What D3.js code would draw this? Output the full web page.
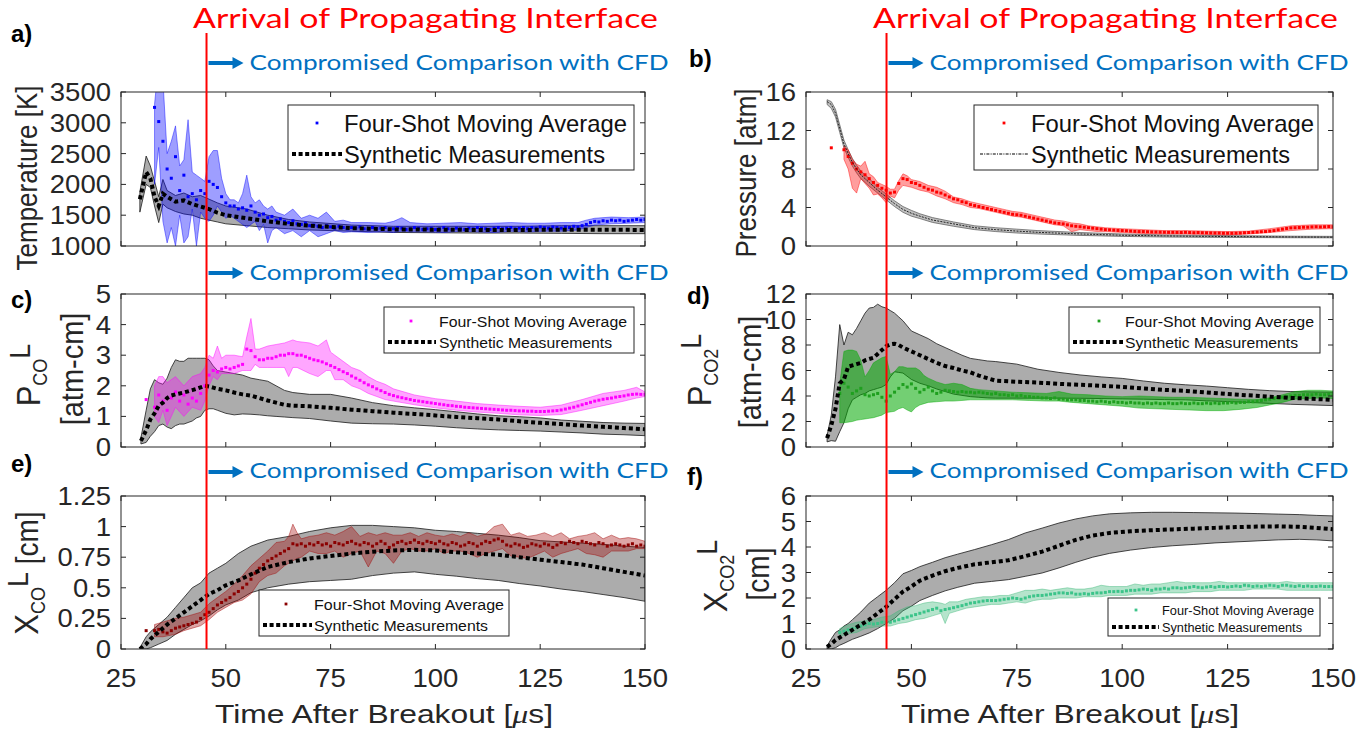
<!DOCTYPE html>
<html><head><meta charset="utf-8">
<script src="https://cdn.jsdelivr.net/npm/d3@7"></script>
<style>body{margin:0;background:#fff}svg{display:block}</style>
</head><body>
<script>
// ---------------- DATA ----------------
const xTicks = [25, 50, 75, 100, 125, 150];
const tempTicks = [1000, 1500, 2000, 2500, 3000, 3500];
const presTicks = [0, 4, 8, 12, 16];
const pcoTicks = [0, 1, 2, 3, 4, 5];
const pco2Ticks = [0, 2, 4, 6, 8, 10, 12];
const xcoTicks = [0, 0.25, 0.5, 0.75, 1, 1.25];
const xco2Ticks = [0, 1, 2, 3, 4, 5, 6];
const arrivalLeft = 45.4, arrivalRight = 44.1;

// (a) Temperature — dots every 1 us from tempDotStart
const tempDotStart = 33;
const tempDots = [3250,3020,2700,2250,2100,2450,1900,2150,1800,1850,
 1750,1900,1850,2050,2000,1950,1800,1700,1650,1650,
 1600,1620,1580,1650,1550,1500,1520,1460,1480,1420,
 1440,1400,1380,1410,1360,1350,1370,1330,1340,1320,
 1300,1330,1310,1290,1320,1300,1280,1300,1290,1310,
 1280,1270,1300,1280,1290,1300,1270,1280,1300,1290,
 1270,1280,1300,1290,1270,1280,1290,1270,1280,1300,
 1280,1270,1290,1280,1270,1290,1280,1300,1290,1280,
 1270,1290,1300,1280,1290,1300,1280,1290,1300,1280,
 1300,1290,1310,1300,1290,1310,1300,1290,1310,1300,
 1320,1310,1330,1350,1380,1400,1390,1410,1400,1420,
 1410,1420,1400,1410,1420,1430,1420,1430];
const tempBandT = [33,34,35,36,37,38,39,40,41,42,43,44,45,46,47,48,49,50,51,52,53,54,55,56,57,58,59,60,61,62,64,66,68,70,72,74,76,78,80,84,88,90,92,94,98,102,106,110,114,118,122,126,130,134,136,138,142,146,150];
const tempBandLo = [2000,2600,1400,1050,1300,1000,1500,1050,1150,1600,1000,1550,1450,1400,1500,1650,1550,1450,1500,1450,1400,1350,1300,1350,1400,1250,1350,1050,1250,1300,1200,1250,1150,1250,1150,1200,1250,1220,1230,1220,1230,1220,1240,1230,1230,1220,1240,1230,1220,1240,1230,1240,1240,1260,1300,1340,1360,1370,1380];
const tempBandHi = [3300,4000,3700,2500,2700,2950,2300,2400,3050,2200,2150,2100,2050,2450,2550,2550,2100,1850,1750,1750,1700,1850,2150,1800,1700,1750,1650,1600,1650,1550,1500,1600,1450,1500,1450,1550,1400,1420,1380,1380,1370,1400,1460,1380,1360,1370,1380,1360,1370,1380,1370,1370,1380,1380,1420,1450,1470,1460,1470];
const tempSynT = [29.5,31,32,33,34,35,36,38,40,42,44,46,48,50,55,60,65,70,80,90,100,110,120,130,140,150];
const tempSyn = [1760,2200,2100,1800,1650,1850,1800,1720,1740,1680,1640,1600,1540,1500,1450,1400,1360,1330,1290,1270,1265,1260,1260,1265,1265,1260];
const tempSynLo = [1550,2000,1950,1650,1380,1680,1620,1560,1520,1500,1450,1420,1390,1360,1330,1300,1280,1260,1240,1220,1215,1210,1210,1205,1200,1200];
const tempSynHi = [1880,2460,2300,2050,1800,2080,1900,1820,1860,1800,1820,1760,1700,1650,1600,1500,1430,1390,1340,1320,1320,1320,1320,1330,1330,1330];

// (b) Pressure
const presDotStart = 31;
const presDots = [10.2,null,null,10.0,9.3,8.6,8.0,7.7,7.4,7.0,
 6.6,6.3,6.0,5.8,5.5,5.6,6.5,7.0,6.9,6.6,
 6.5,6.3,6.1,5.9,5.8,5.6,5.5,5.3,5.1,4.9,
 4.8,4.6,4.5,4.3,4.2,4.1,4.0,3.9,3.8,3.7,
 3.6,3.5,3.4,3.3,3.25,3.2,3.1,3.0,2.9,2.8,
 2.7,2.6,2.5,2.4,2.35,2.3,2.2,2.1,2.05,2.0,
 1.95,1.9,1.85,1.8,1.75,1.7,1.68,1.65,1.62,1.6,
 1.58,1.55,1.52,1.5,1.5,1.48,1.46,1.45,1.44,1.43,
 1.42,1.42,1.41,1.4,1.42,1.4,1.38,1.4,1.38,1.37,
 1.36,1.35,1.35,1.33,1.33,1.32,1.33,1.35,1.38,1.4,
 1.42,1.45,1.48,1.5,1.55,1.6,1.68,1.75,1.82,1.88,
 1.9,1.92,1.95,1.95,1.98,2.0,1.98,2.0,2.02,2.0];
const presBandT = [34,35,36,37,38,39,40,41,42,43,44,45,46,47,48,49,50,52,54,56,58,60,62,64,66,68,70,72,74,76,78,80,82,84,86,88,90,92,94,96,100,105,110,115,120,125,130,135,140,145,150];
const presBandLo = [9.0,8.0,6.0,5.5,7.0,6.5,6.0,5.3,5.4,5.0,4.5,5.2,5.0,5.8,6.3,6.2,6.1,5.8,5.6,5.2,4.9,4.5,4.3,4.0,3.9,3.7,3.5,3.3,3.1,3.0,2.8,2.6,2.4,2.2,2.1,1.5,1.7,1.6,1.5,1.5,1.4,1.3,1.25,1.25,1.2,1.15,1.25,1.4,1.6,1.75,1.8];
const presBandHi = [10.4,10.0,9.0,8.5,8.3,8.8,7.5,7.2,6.6,6.4,6.2,5.9,5.9,6.8,7.5,7.3,6.9,6.7,6.3,6.1,5.7,5.1,4.9,4.6,4.4,4.2,4.0,3.8,3.6,3.5,3.3,3.1,2.9,2.7,2.6,2.4,2.3,2.1,2.0,1.9,1.8,1.7,1.6,1.6,1.55,1.5,1.55,1.8,2.1,2.2,2.2];
const presSynT = [30,31,32,33,34,35,36,37,38,40,42,44,46,48,50,52,55,60,65,70,75,80,90,100,110,120,130,140,150];
const presSyn = [15.0,14.7,13.8,12.2,10.6,9.6,8.7,8.0,7.4,6.6,5.8,5.1,4.4,3.8,3.4,3.1,2.7,2.3,1.9,1.7,1.55,1.42,1.25,1.12,1.05,1.0,0.97,0.94,0.92];
const presSynLo = [14.7,14.3,13.4,11.8,10.2,9.2,8.3,7.6,7.0,6.2,5.5,4.8,4.1,3.5,3.1,2.85,2.45,2.05,1.7,1.5,1.35,1.25,1.1,1.0,0.93,0.9,0.88,0.86,0.85];
const presSynHi = [15.2,15.0,14.2,12.6,11.0,10.0,9.1,8.4,7.8,7.0,6.1,5.4,4.7,4.1,3.7,3.35,2.95,2.5,2.1,1.9,1.75,1.6,1.4,1.25,1.15,1.1,1.06,1.02,1.0];

// (c) P_CO L
const pcoDotStart = 31;
const pcoDots = [1.55,null,1.3,1.7,1.5,1.2,1.6,1.8,1.5,1.7,
 1.4,1.6,1.5,1.75,2.0,2.35,2.5,2.45,2.55,2.6,
 2.55,2.6,2.65,2.7,3.2,3.15,2.95,2.85,2.85,2.9,
 2.9,2.95,3.0,3.0,3.05,3.05,3.0,3.0,2.95,2.9,
 2.85,2.82,2.78,2.72,2.66,2.6,2.53,2.46,2.4,2.32,
 2.25,2.18,2.1,2.03,1.97,1.9,1.84,1.78,1.72,1.68,
 1.64,1.61,1.58,1.55,1.52,1.5,1.48,1.46,1.44,1.42,
 1.4,1.38,1.36,1.35,1.33,1.32,1.3,1.29,1.28,1.27,
 1.26,1.25,1.24,1.23,1.22,1.21,1.2,1.2,1.19,1.18,
 1.18,1.17,1.17,1.16,1.16,1.16,1.17,1.18,1.19,1.21,
 1.24,1.27,1.3,1.34,1.38,1.42,1.46,1.5,1.53,1.56,
 1.58,1.6,1.63,1.65,1.67,1.7,1.72,1.73,1.72,1.72];
const pcoBandT = [33,34,35,36,38,40,42,44,45,46,47,48,49,50,52,54,55,56,57,58,60,62,64,65,66,67,70,72,74,75,76,78,80,82,84,86,88,90,95,100,105,110,115,120,125,130,135,140,145,148,150];
const pcoBandLo = [1.0,0.8,1.2,0.7,1.3,1.0,1.3,1.2,1.5,2.0,2.3,2.2,2.4,2.4,2.4,2.5,2.5,2.5,2.7,2.6,2.6,2.6,2.6,2.3,2.6,2.6,2.4,2.3,2.5,2.5,2.2,2.2,2.0,1.9,1.75,1.65,1.55,1.5,1.38,1.28,1.2,1.14,1.1,1.05,1.03,1.06,1.2,1.35,1.5,1.6,1.65];
const pcoBandHi = [2.0,2.3,2.3,2.1,2.3,2.0,2.3,2.4,2.6,3.0,2.9,3.3,2.9,3.0,3.0,2.95,3.6,4.2,3.2,3.2,3.3,3.35,3.4,3.45,3.5,3.45,3.4,3.3,3.5,3.1,3.0,2.8,2.6,2.5,2.3,2.15,2.05,1.9,1.7,1.58,1.5,1.42,1.37,1.33,1.3,1.37,1.55,1.75,1.85,1.95,1.8];
const pcoSynT = [29.75,31,32,33,34,35,36,37,38,39,40,41,42,43,44,45,46,47,48,50,52,54,56,58,60,62,64,66,70,75,80,85,90,95,100,105,110,115,120,125,130,135,140,145,150];
const pcoSyn = [0.2,0.55,0.9,1.1,1.35,1.45,1.6,1.68,1.72,1.75,1.78,1.82,1.86,1.9,1.95,2.0,1.98,1.94,1.9,1.85,1.78,1.72,1.68,1.6,1.52,1.45,1.38,1.35,1.33,1.28,1.22,1.17,1.12,1.08,1.03,0.98,0.94,0.9,0.84,0.79,0.75,0.7,0.66,0.62,0.58];
const pcoSynLo = [0.1,0.15,0.35,0.5,0.7,0.75,0.65,0.6,0.7,0.75,0.75,0.8,0.85,0.95,1.0,1.2,1.25,1.25,1.2,1.1,1.05,1.08,1.07,1.05,1.02,1.0,0.98,0.96,0.93,0.85,0.78,0.76,0.75,0.72,0.68,0.63,0.59,0.56,0.54,0.52,0.49,0.46,0.42,0.4,0.37];
const pcoSynHi = [0.3,1.2,1.9,2.2,2.1,2.05,2.25,2.6,2.85,2.8,2.8,2.9,2.9,2.9,2.9,2.9,2.85,2.65,2.5,2.45,2.4,2.35,2.25,2.2,2.15,2.0,1.85,1.78,1.72,1.72,1.6,1.45,1.35,1.28,1.22,1.15,1.08,1.02,0.99,0.95,0.88,0.84,0.8,0.78,0.77];

// (d) P_CO2 L
const pco2DotStart = 33;
const pco2Dots = [4.2,5.0,4.7,4.2,4.4,4.6,4.1,4.0,4.1,4.2,
 3.9,3.6,4.0,4.3,4.6,4.9,4.7,4.95,4.6,4.3,
 4.5,4.7,4.4,4.2,4.3,4.45,4.4,4.35,4.3,4.35,
 4.3,4.3,4.25,4.3,4.25,4.2,4.15,4.2,4.1,4.1,
 4.05,4.1,4.0,4.05,3.95,3.95,3.9,3.9,3.85,3.85,
 3.8,3.85,3.75,3.75,3.7,3.7,3.7,3.65,3.65,3.6,
 3.6,3.55,3.6,3.55,3.5,3.55,3.5,3.5,3.45,3.5,
 3.45,3.45,3.4,3.45,3.4,3.45,3.4,3.4,3.45,3.4,
 3.4,3.45,3.4,3.4,3.45,3.4,3.4,3.45,3.4,3.45,
 3.4,3.45,3.45,3.5,3.45,3.5,3.5,3.55,3.55,3.6,
 3.65,3.7,3.75,3.8,3.85,3.9,3.95,4.0,4.05,4.05,
 4.1,4.1,4.1,4.15,4.1,4.1,4.15,4.1];
const pco2BandT = [33,34,35,36,37,38,39,40,41,42,43,44,45,46,47,48,49,50,51,52,53,54,56,58,60,62,64,66,70,74,78,82,85,88,92,96,100,104,108,112,116,120,124,128,132,135,138,141,144,147,150];
const pco2BandLo = [1.9,1.9,1.95,2.0,2.1,2.15,2.2,2.25,2.3,2.4,2.5,2.7,2.75,2.8,3.0,3.1,2.9,2.75,3.1,3.3,3.4,3.5,3.55,3.6,3.6,3.65,3.7,3.7,3.7,3.7,3.65,3.6,3.6,3.5,3.4,3.3,3.2,3.05,3.0,2.95,2.9,2.85,2.85,2.95,3.1,3.3,3.5,3.75,3.8,3.85,3.8];
const pco2BandHi = [5.0,7.5,7.6,7.6,7.5,6.8,5.5,6.0,6.6,6.8,7.0,7.1,5.7,5.9,6.3,6.3,6.2,6.2,6.2,6.0,5.6,5.4,5.1,4.9,5.0,4.9,4.6,4.5,4.4,4.3,4.25,4.2,4.35,4.15,4.1,4.0,3.95,4.0,3.95,3.9,3.9,3.85,3.8,3.75,3.75,3.85,4.1,4.35,4.45,4.45,4.4];
const pco2SynT = [30,31,32,33,34,35,36,37,38,39,40,41,42,43,44,45,46,47,48,50,52,54,56,58,60,62,64,66,68,70,75,80,85,90,95,100,105,110,115,120,125,130,135,140,145,150];
const pco2Syn = [0.7,1.7,3.0,5.0,5.3,6.3,6.4,6.5,6.6,6.8,6.9,7.0,7.3,7.6,7.9,8.05,8.1,8.0,7.8,7.5,7.2,6.9,6.6,6.35,6.2,6.0,5.85,5.6,5.4,5.2,5.12,5.05,4.95,4.88,4.8,4.72,4.6,4.48,4.4,4.28,4.15,4.05,3.95,3.85,3.78,3.7];
const pco2SynLo = [0.4,0.5,0.45,1.2,1.9,3.0,3.7,3.9,4.1,4.2,4.4,4.5,4.6,4.7,4.9,5.5,5.9,5.85,5.8,5.3,5.0,4.8,4.55,4.35,4.15,4.05,3.95,3.9,3.85,3.83,3.83,3.83,3.83,3.82,3.8,3.77,3.75,3.72,3.7,3.62,3.56,3.5,3.42,3.35,3.3,3.25];
const pco2SynHi = [0.9,2.5,5.5,9.6,8.0,9.0,8.8,9.3,9.9,10.5,10.9,10.95,11.2,11.0,10.9,10.7,10.5,10.2,9.9,9.1,8.8,8.5,8.1,7.8,7.5,7.2,6.95,6.85,6.75,6.7,6.5,6.1,5.85,5.65,5.5,5.38,5.18,5.0,4.88,4.78,4.65,4.52,4.42,4.35,4.32,4.3];

// (e) X_CO L
const xcoDotStart = 31;
const xcoDots = [0.15,null,0.15,0.16,0.14,0.13,0.15,0.17,0.18,0.19,
 0.2,0.21,0.22,0.25,0.28,0.3,0.33,0.36,0.38,0.4,
 0.42,0.45,0.47,0.5,0.53,0.57,0.62,0.66,0.69,0.72,
 0.74,0.76,0.78,0.8,0.82,0.86,0.85,0.86,0.84,0.86,
 0.85,0.87,0.85,0.86,0.84,0.87,0.86,0.85,0.87,0.88,
 0.86,0.85,0.87,0.86,0.84,0.86,0.88,0.86,0.83,0.85,
 0.87,0.88,0.86,0.87,0.89,0.87,0.86,0.88,0.87,0.86,
 0.88,0.86,0.85,0.87,0.86,0.84,0.85,0.87,0.86,0.84,
 0.86,0.88,0.87,0.89,0.9,0.88,0.85,0.84,0.86,0.85,
 0.83,0.84,0.86,0.85,0.84,0.86,0.85,0.83,0.85,0.87,
 0.86,0.88,0.87,0.86,0.88,0.87,0.86,0.85,0.87,0.86,
 0.84,0.85,0.86,0.85,0.84,0.85,0.86,0.84,0.85,0.84];
const xcoBandT = [33,35,38,40,42,44,46,48,50,52,54,56,58,60,62,64,65,66,67,68,70,72,74,76,78,80,82,84,86,88,90,92,94,96,98,100,102,104,106,108,110,112,114,116,118,120,122,124,126,128,130,132,134,136,138,140,142,144,146,148,150];
const xcoBandLo = [0.1,0.1,0.12,0.15,0.17,0.19,0.24,0.3,0.34,0.38,0.4,0.45,0.55,0.6,0.62,0.68,0.7,0.72,0.74,0.75,0.8,0.78,0.78,0.8,0.75,0.78,0.8,0.67,0.8,0.78,0.7,0.8,0.82,0.8,0.8,0.82,0.78,0.8,0.8,0.78,0.75,0.78,0.8,0.82,0.76,0.75,0.74,0.77,0.8,0.75,0.78,0.8,0.82,0.78,0.77,0.75,0.8,0.8,0.8,0.82,0.82];
const xcoBandHi = [0.2,0.22,0.25,0.26,0.28,0.3,0.37,0.42,0.47,0.53,0.6,0.68,0.74,0.8,0.87,0.88,0.92,1.02,0.95,0.9,0.92,0.93,0.95,0.93,0.96,1.0,0.92,0.95,0.93,0.95,0.93,0.93,0.95,0.92,0.95,0.93,0.92,0.94,0.92,0.95,0.92,0.94,1.0,1.02,0.93,0.95,0.92,0.93,0.95,0.92,0.95,0.9,0.92,0.93,0.95,0.9,0.93,0.9,0.91,0.9,0.88];
const xcoSynT = [29.5,31,32,34,36,38,40,42,44,46,48,50,53,56,60,65,70,75,80,85,90,95,100,105,110,115,120,125,130,135,140,145,150];
const xcoSyn = [0.0,0.04,0.08,0.14,0.2,0.25,0.3,0.35,0.4,0.45,0.48,0.52,0.56,0.61,0.67,0.71,0.74,0.76,0.78,0.795,0.805,0.81,0.805,0.79,0.78,0.77,0.75,0.73,0.71,0.69,0.66,0.63,0.6];
const xcoSynLo = [0.0,0.0,0.01,0.04,0.07,0.12,0.16,0.2,0.23,0.27,0.32,0.36,0.4,0.46,0.5,0.53,0.55,0.56,0.57,0.6,0.62,0.63,0.61,0.595,0.575,0.56,0.535,0.515,0.49,0.47,0.445,0.42,0.39];
const xcoSynHi = [0.01,0.1,0.14,0.2,0.26,0.34,0.42,0.5,0.54,0.62,0.66,0.7,0.78,0.84,0.89,0.92,0.96,0.99,1.01,1.01,1.0,0.99,0.97,0.96,0.945,0.93,0.91,0.885,0.875,0.865,0.855,0.84,0.83];

// (f) X_CO2 L
const xco2DotStart = 33;
const xco2Dots = [0.65,0.7,0.75,0.8,0.85,0.9,0.95,1.0,0.98,1.0,
 1.05,1.05,1.05,1.1,1.15,1.2,1.25,1.3,1.35,1.4,
 1.45,1.5,1.55,1.6,1.5,1.55,1.58,1.62,1.66,1.7,
 1.75,1.8,1.82,1.85,1.88,1.9,1.9,1.9,1.92,1.95,
 1.97,2.0,1.98,1.95,2.0,2.05,2.08,2.1,2.1,2.12,
 2.15,2.17,2.2,2.2,2.18,2.2,2.15,2.15,2.17,2.15,
 2.18,2.2,2.2,2.22,2.25,2.25,2.26,2.25,2.28,2.3,
 2.3,2.32,2.35,2.33,2.3,2.35,2.35,2.38,2.35,2.4,
 2.4,2.38,2.4,2.42,2.45,2.42,2.4,2.43,2.45,2.42,
 2.45,2.45,2.43,2.45,2.47,2.45,2.5,2.48,2.45,2.47,
 2.45,2.47,2.5,2.48,2.45,2.5,2.5,2.47,2.45,2.48,
 2.45,2.47,2.45,2.45,2.47,2.45,2.45,2.45];
const xco2BandT = [33,35,37,39,41,43,45,47,49,51,53,55,57,58,59,61,63,65,67,69,71,73,75,77,79,81,83,85,87,89,91,93,95,97,99,101,103,105,107,109,111,113,115,117,119,121,123,125,127,129,131,133,135,137,139,141,143,145,147,149,150];
const xco2BandLo = [0.5,0.6,0.65,0.8,0.85,0.9,0.9,1.0,1.05,1.15,1.2,1.3,1.4,1.0,1.4,1.5,1.6,1.65,1.7,1.75,1.75,1.8,1.85,1.8,1.9,1.95,1.95,2.0,2.0,2.0,2.05,2.05,2.05,2.1,2.1,2.1,2.15,2.15,2.15,2.2,2.2,2.2,2.2,2.25,2.25,2.25,2.3,2.3,2.3,2.3,2.35,2.35,2.35,2.35,2.3,2.3,2.3,2.3,2.3,2.3,2.3];
const xco2BandHi = [0.8,0.95,1.05,1.1,1.15,1.25,1.3,1.5,1.65,1.7,1.8,1.85,1.8,1.75,1.85,1.85,1.95,2.0,2.05,2.05,2.1,2.1,2.2,2.3,2.3,2.35,2.3,2.35,2.4,2.35,2.35,2.4,2.5,2.45,2.45,2.45,2.55,2.5,2.55,2.55,2.6,2.65,2.6,2.6,2.6,2.6,2.65,2.6,2.6,2.6,2.6,2.6,2.6,2.6,2.65,2.6,2.6,2.6,2.6,2.6,2.6];
const xco2SynT = [30,31,32,33,34,35,36,38,40,42,44,46,48,50,52,55,58,61,65,69,73,77,81,85,89,93,97,102,107,112,117,122,127,132,137,142,146,150];
const xco2Syn = [0.08,0.2,0.35,0.45,0.55,0.65,0.75,0.95,1.15,1.4,1.65,1.95,2.25,2.45,2.68,2.88,3.05,3.18,3.32,3.4,3.48,3.64,3.82,4.05,4.28,4.45,4.55,4.62,4.66,4.69,4.72,4.75,4.78,4.8,4.81,4.79,4.75,4.7];
const xco2SynLo = [0.0,0.0,0.05,0.15,0.22,0.3,0.38,0.5,0.63,0.8,1.0,1.2,1.5,1.68,1.9,2.1,2.28,2.42,2.58,2.65,2.72,2.85,2.98,3.18,3.4,3.6,3.75,3.88,3.98,4.05,4.1,4.16,4.2,4.24,4.28,4.3,4.28,4.24];
const xco2SynHi = [0.12,0.4,0.65,0.75,0.9,1.0,1.15,1.45,1.8,2.05,2.3,2.6,2.95,3.08,3.23,3.4,3.58,3.72,3.9,4.09,4.29,4.55,4.74,4.94,5.1,5.22,5.3,5.34,5.36,5.36,5.35,5.34,5.33,5.31,5.29,5.27,5.24,5.22];

const legendLabels = ["Four-Shot Moving Average", "Synthetic Measurements"];
const titleText = "Arrival of Propagating Interface";
const noteText = "Compromised Comparison with CFD";
const xTitle = ["Time After Breakout [", "\u03bc", "s]"];

// ---------------- DRAWING ----------------
const W = 1361, H = 735;
const AX = "#262626";
const FONT = '"Liberation Sans", Arial, Helvetica, sans-serif';
const CAL = 'Lato, "Open Sans", sans-serif';
const BLUE = "#0070C0";
const svg = d3.select("body").append("svg").attr("width", W).attr("height", H);
svg.append("rect").attr("width", W).attr("height", H).attr("fill", "#fff");

const colX = {
  L: d3.scaleLinear().domain([25, 150]).range([121, 645]),
  R: d3.scaleLinear().domain([25, 150]).range([806, 1333])
};
const numW = s => { let w = 0; for (const c of s) w += (c === ".") ? 7.5 : 15.3; return w; };

const panels = [
 {key:"a", col:"L", y0:92, y1:246, ticks:tempTicks, dotStart:tempDotStart, dots:tempDots, bandT:tempBandT, lo:tempBandLo, hi:tempBandHi,
  synT:tempSynT, syn:tempSyn, synLo:tempSynLo, synHi:tempSynHi, color:"#0000ff", bandOp:0.38, dotColor:"#0000ff", thin:false, xLabels:false,
  leg:{bx:288,by:105,bw:346,bh:65, dotX:317, r1:123, r2:154, lx0:292, lx1:342, tx:344, fs:24, w1:283, w2:261},
  letter:{t:"a)", x:11, y:42},
  labels:[{x:37, y:178, parts:[{t:"Temperature [K]", s:26}]}]},
 {key:"b", col:"R", y0:92, y1:246, ticks:presTicks, dotStart:presDotStart, dots:presDots, bandT:presBandT, lo:presBandLo, hi:presBandHi,
  synT:presSynT, syn:presSyn, synLo:presSynLo, synHi:presSynHi, color:"#ff0000", bandOp:0.38, dotColor:"#ff0000", thin:true, xLabels:false,
  leg:{bx:974,by:105,bw:344,bh:65, dotX:1004, r1:123, r2:154, lx0:980, lx1:1029, tx:1031, fs:24, w1:283, w2:259},
  letter:{t:"b)", x:689, y:67},
  labels:[{x:756, y:173, parts:[{t:"Pressure [atm]", s:26}]}]},
 {key:"c", col:"L", y0:294, y1:447, ticks:pcoTicks, dotStart:pcoDotStart, dots:pcoDots, bandT:pcoBandT, lo:pcoBandLo, hi:pcoBandHi,
  synT:pcoSynT, syn:pcoSyn, synLo:pcoSynLo, synHi:pcoSynHi, color:"#ff00ff", bandOp:0.35, dotColor:"#ff00ff", thin:false, xLabels:false,
  leg:{bx:384,by:307,bw:250,bh:46, dotX:411, r1:321, r2:342, lx0:388, lx1:436, tx:439, fs:15.5, w1:188, w2:173},
  letter:{t:"c)", x:11, y:308},
  labels:[{x:40, y:375, parts:[{t:"P", s:31},{t:"CO", s:18, dy:6},{t:"L", s:27, dy:-15}]},
          {x:83, y:369, parts:[{t:"[atm-cm]", s:29}]}]},
 {key:"d", col:"R", y0:294, y1:447, ticks:pco2Ticks, dotStart:pco2DotStart, dots:pco2Dots, bandT:pco2BandT, lo:pco2BandLo, hi:pco2BandHi,
  synT:pco2SynT, syn:pco2Syn, synLo:pco2SynLo, synHi:pco2SynHi, color:"#00a800", bandOp:0.55, dotColor:"#1f9f1f", thin:false, xLabels:false,
  leg:{bx:1069,by:307,bw:251,bh:46, dotX:1099, r1:321, r2:342, lx0:1073, lx1:1123, tx:1125, fs:15.5, w1:189, w2:173},
  letter:{t:"d)", x:687, y:304},
  labels:[{x:711, y:370, parts:[{t:"P", s:31},{t:"CO2", s:18, dy:6},{t:"L", s:27, dy:-15}]},
          {x:761, y:372, parts:[{t:"[atm-cm]", s:29}]}]},
 {key:"e", col:"L", y0:496, y1:649, ticks:xcoTicks, dotStart:xcoDotStart, dots:xcoDots, bandT:xcoBandT, lo:xcoBandLo, hi:xcoBandHi,
  synT:xcoSynT, syn:xcoSyn, synLo:xcoSynLo, synHi:xcoSynHi, color:"#a00000", bandOp:0.35, dotColor:"#8b0000", thin:false, xLabels:true,
  leg:{bx:259,by:590,bw:250,bh:46, dotX:286, r1:604, r2:625, lx0:263, lx1:312, tx:314, fs:15.5, w1:190, w2:174},
  letter:{t:"e)", x:11, y:472},
  labels:[{x:38, y:573, parts:[{t:"X", s:31},{t:"CO", s:18, dy:6},{t:"L", s:27, dy:-15},{t:" [cm]", s:28, dy:9}]}]},
 {key:"f", col:"R", y0:496, y1:649, ticks:xco2Ticks, dotStart:xco2DotStart, dots:xco2Dots, bandT:xco2BandT, lo:xco2BandLo, hi:xco2BandHi,
  synT:xco2SynT, syn:xco2Syn, synLo:xco2SynLo, synHi:xco2SynHi, color:"#3cb878", bandOp:0.38, dotColor:"#3cc48a", thin:false, xLabels:true,
  leg:{bx:1108,by:598,bw:212,bh:38, dotX:1136, r1:610, r2:627, lx0:1112, lx1:1159, tx:1162, fs:13, w1:152, w2:140},
  letter:{t:"f)", x:687, y:485},
  labels:[{x:727, y:576, parts:[{t:"X", s:31},{t:"CO2", s:18, dy:6},{t:"L", s:27, dy:-15}]},
          {x:769, y:574, parts:[{t:"[cm]", s:28}]}]}
];

function drawPanel(p) {
  const x = colX[p.col];
  const x0 = x.range()[0], x1 = x.range()[1];
  const y = d3.scaleLinear().domain([p.ticks[0], p.ticks[p.ticks.length - 1]]).range([p.y1, p.y0]);
  const cid = "clip-" + p.key;
  svg.append("clipPath").attr("id", cid).append("rect")
    .attr("x", x0).attr("y", p.y0).attr("width", x1 - x0).attr("height", p.y1 - p.y0);
  const g = svg.append("g").attr("clip-path", `url(#${cid})`);
  const area = d3.area().x(d => x(d.t)).y0(d => y(d.lo)).y1(d => y(d.hi));
  const syn = p.synT.map((t, i) => ({t, m: p.syn[i], lo: p.synLo[i], hi: p.synHi[i]}));
  const band = p.bandT.map((t, i) => ({t, lo: p.lo[i], hi: p.hi[i]}));
  // synthetic grey band
  g.append("path").datum(syn).attr("d", area)
    .attr("fill", "#808080").attr("fill-opacity", p.thin ? 0.5 : 0.65)
    .attr("stroke", p.thin ? "#555" : "#1a1a1a").attr("stroke-width", p.thin ? 0.7 : 0.8);
  // measurement band
  g.append("path").datum(band).attr("d", area)
    .attr("fill", p.color).attr("fill-opacity", p.bandOp)
    .attr("stroke", p.color).attr("stroke-opacity", 0.55).attr("stroke-width", 0.8);
  // dots
  const dots = p.dots.map((v, i) => ({t: p.dotStart + i, v})).filter(d => d.v !== null);
  g.selectAll(null).data(dots).join("rect")
    .attr("x", d => x(d.t) - 1.5).attr("y", d => y(d.v) - 1.5)
    .attr("width", 3).attr("height", 3).attr("fill", p.dotColor);
  // synthetic dotted line
  g.append("path").datum(syn).attr("d", d3.line().x(d => x(d.t)).y(d => y(d.m)))
    .attr("fill", "none").attr("stroke", p.thin ? "#222" : "#000")
    .attr("stroke-width", p.thin ? 1 : 4).attr("stroke-dasharray", p.thin ? "2,1.2" : "4,3");

  // frame
  const fr = svg.append("g").attr("stroke", AX).attr("stroke-width", 1).attr("fill", "none");
  fr.append("rect").attr("x", x0).attr("y", p.y0).attr("width", x1 - x0).attr("height", p.y1 - p.y0);
  xTicks.forEach(t => {
    fr.append("line").attr("x1", x(t)).attr("x2", x(t)).attr("y1", p.y1).attr("y2", p.y1 - 5);
    fr.append("line").attr("x1", x(t)).attr("x2", x(t)).attr("y1", p.y0).attr("y2", p.y0 + 5);
  });
  p.ticks.forEach(v => {
    fr.append("line").attr("x1", x0).attr("x2", x0 + 5).attr("y1", y(v)).attr("y2", y(v));
    fr.append("line").attr("x1", x1).attr("x2", x1 - 5).attr("y1", y(v)).attr("y2", y(v));
  });
  // y tick labels
  p.ticks.forEach(v => {
    const s = String(v);
    svg.append("text").attr("x", x0 - 10).attr("y", y(v) + 9).attr("text-anchor", "end")
      .attr("font-family", FONT).attr("font-size", 25).attr("fill", AX)
      .attr("textLength", numW(s)).attr("lengthAdjust", "spacingAndGlyphs").text(s);
  });
  if (p.xLabels) {
    xTicks.forEach(t => {
      const s = String(t);
      svg.append("text").attr("x", x(t)).attr("y", 687).attr("text-anchor", "middle")
        .attr("font-family", FONT).attr("font-size", 25).attr("fill", AX)
        .attr("textLength", numW(s)).attr("lengthAdjust", "spacingAndGlyphs").text(s);
    });
    const tt = svg.append("text").attr("x", p.col === "L" ? 215 : 901).attr("y", 723)
      .attr("font-family", FONT).attr("font-size", 26).attr("fill", AX)
      .attr("textLength", 338).attr("lengthAdjust", "spacingAndGlyphs");
    tt.append("tspan").text(xTitle[0]);
    tt.append("tspan").attr("font-style", "italic").attr("font-family", '"Liberation Serif", serif').text(xTitle[1]);
    tt.append("tspan").text(xTitle[2]);
  }
  // legend
  const L = p.leg;
  const lg = svg.append("g");
  lg.append("rect").attr("x", L.bx).attr("y", L.by).attr("width", L.bw).attr("height", L.bh)
    .attr("fill", "#fff").attr("stroke", AX).attr("stroke-width", 1);
  lg.append("rect").attr("x", L.dotX - 1.4).attr("y", L.r1 - 1.4).attr("width", 2.8).attr("height", 2.8).attr("fill", p.dotColor);
  lg.append("line").attr("x1", L.lx0).attr("x2", L.lx1).attr("y1", L.r2).attr("y2", L.r2)
    .attr("stroke", "#000").attr("stroke-width", p.thin ? 1.2 : 4)
    .attr("stroke-dasharray", p.thin ? "3,1.2,1,1.2" : "4,2.6");
  [[legendLabels[0], L.r1, L.w1], [legendLabels[1], L.r2, L.w2]].forEach(([t, yy, w]) => {
    lg.append("text").attr("x", L.tx).attr("y", yy + L.fs * 0.36)
      .attr("font-family", FONT).attr("font-size", L.fs).attr("fill", "#111")
      .attr("textLength", w).attr("lengthAdjust", "spacingAndGlyphs").text(t);
  });
  // letter
  svg.append("text").attr("x", p.letter.x).attr("y", p.letter.y).attr("font-family", FONT)
    .attr("font-weight", "bold").attr("font-size", 24).attr("fill", "#000").text(p.letter.t);
  // rotated y labels
  p.labels.forEach(l => {
    const t = svg.append("text").attr("transform", `translate(${l.x},${l.y}) rotate(-90) scale(1,1.1)`)
      .attr("text-anchor", "middle").attr("font-family", FONT).attr("fill", AX);
    l.parts.forEach(pt => t.append("tspan").attr("font-size", pt.s).attr("dy", pt.dy || 0).text(pt.t));
  });
}
panels.forEach(drawPanel);

// blue notes with arrows
[["L", 63, 70], ["L", 273, 280], ["L", 472, 478], ["R", 63, 70], ["R", 273, 280], ["R", 472, 478]].forEach(([c, ay, by]) => {
  const ax = colX[c](c === "L" ? arrivalLeft : arrivalRight) + 2;
  svg.append("line").attr("x1", ax).attr("x2", ax + 26).attr("y1", ay).attr("y2", ay)
    .attr("stroke", BLUE).attr("stroke-width", 4);
  svg.append("path").attr("d", `M${ax + 24},${ay - 6}L${ax + 35},${ay}L${ax + 24},${ay + 6}Z`).attr("fill", BLUE);
  svg.append("text").attr("x", ax + 41).attr("y", by).attr("font-family", CAL).attr("font-size", 21)
    .attr("fill", BLUE).attr("textLength", 419).attr("lengthAdjust", "spacingAndGlyphs").text(noteText);
});

// red arrival lines and titles
[["L", arrivalLeft, 193], ["R", arrivalRight, 873]].forEach(([c, t, tx]) => {
  svg.append("line").attr("x1", colX[c](t)).attr("x2", colX[c](t)).attr("y1", 33).attr("y2", 649)
    .attr("stroke", "#ff0000").attr("stroke-width", 2);
  svg.append("text").attr("x", tx).attr("y", 28).attr("font-family", CAL).attr("font-size", 26)
    .attr("fill", "#ff0000").attr("textLength", 465).attr("lengthAdjust", "spacingAndGlyphs").text(titleText);
});
</script>
</body></html>
